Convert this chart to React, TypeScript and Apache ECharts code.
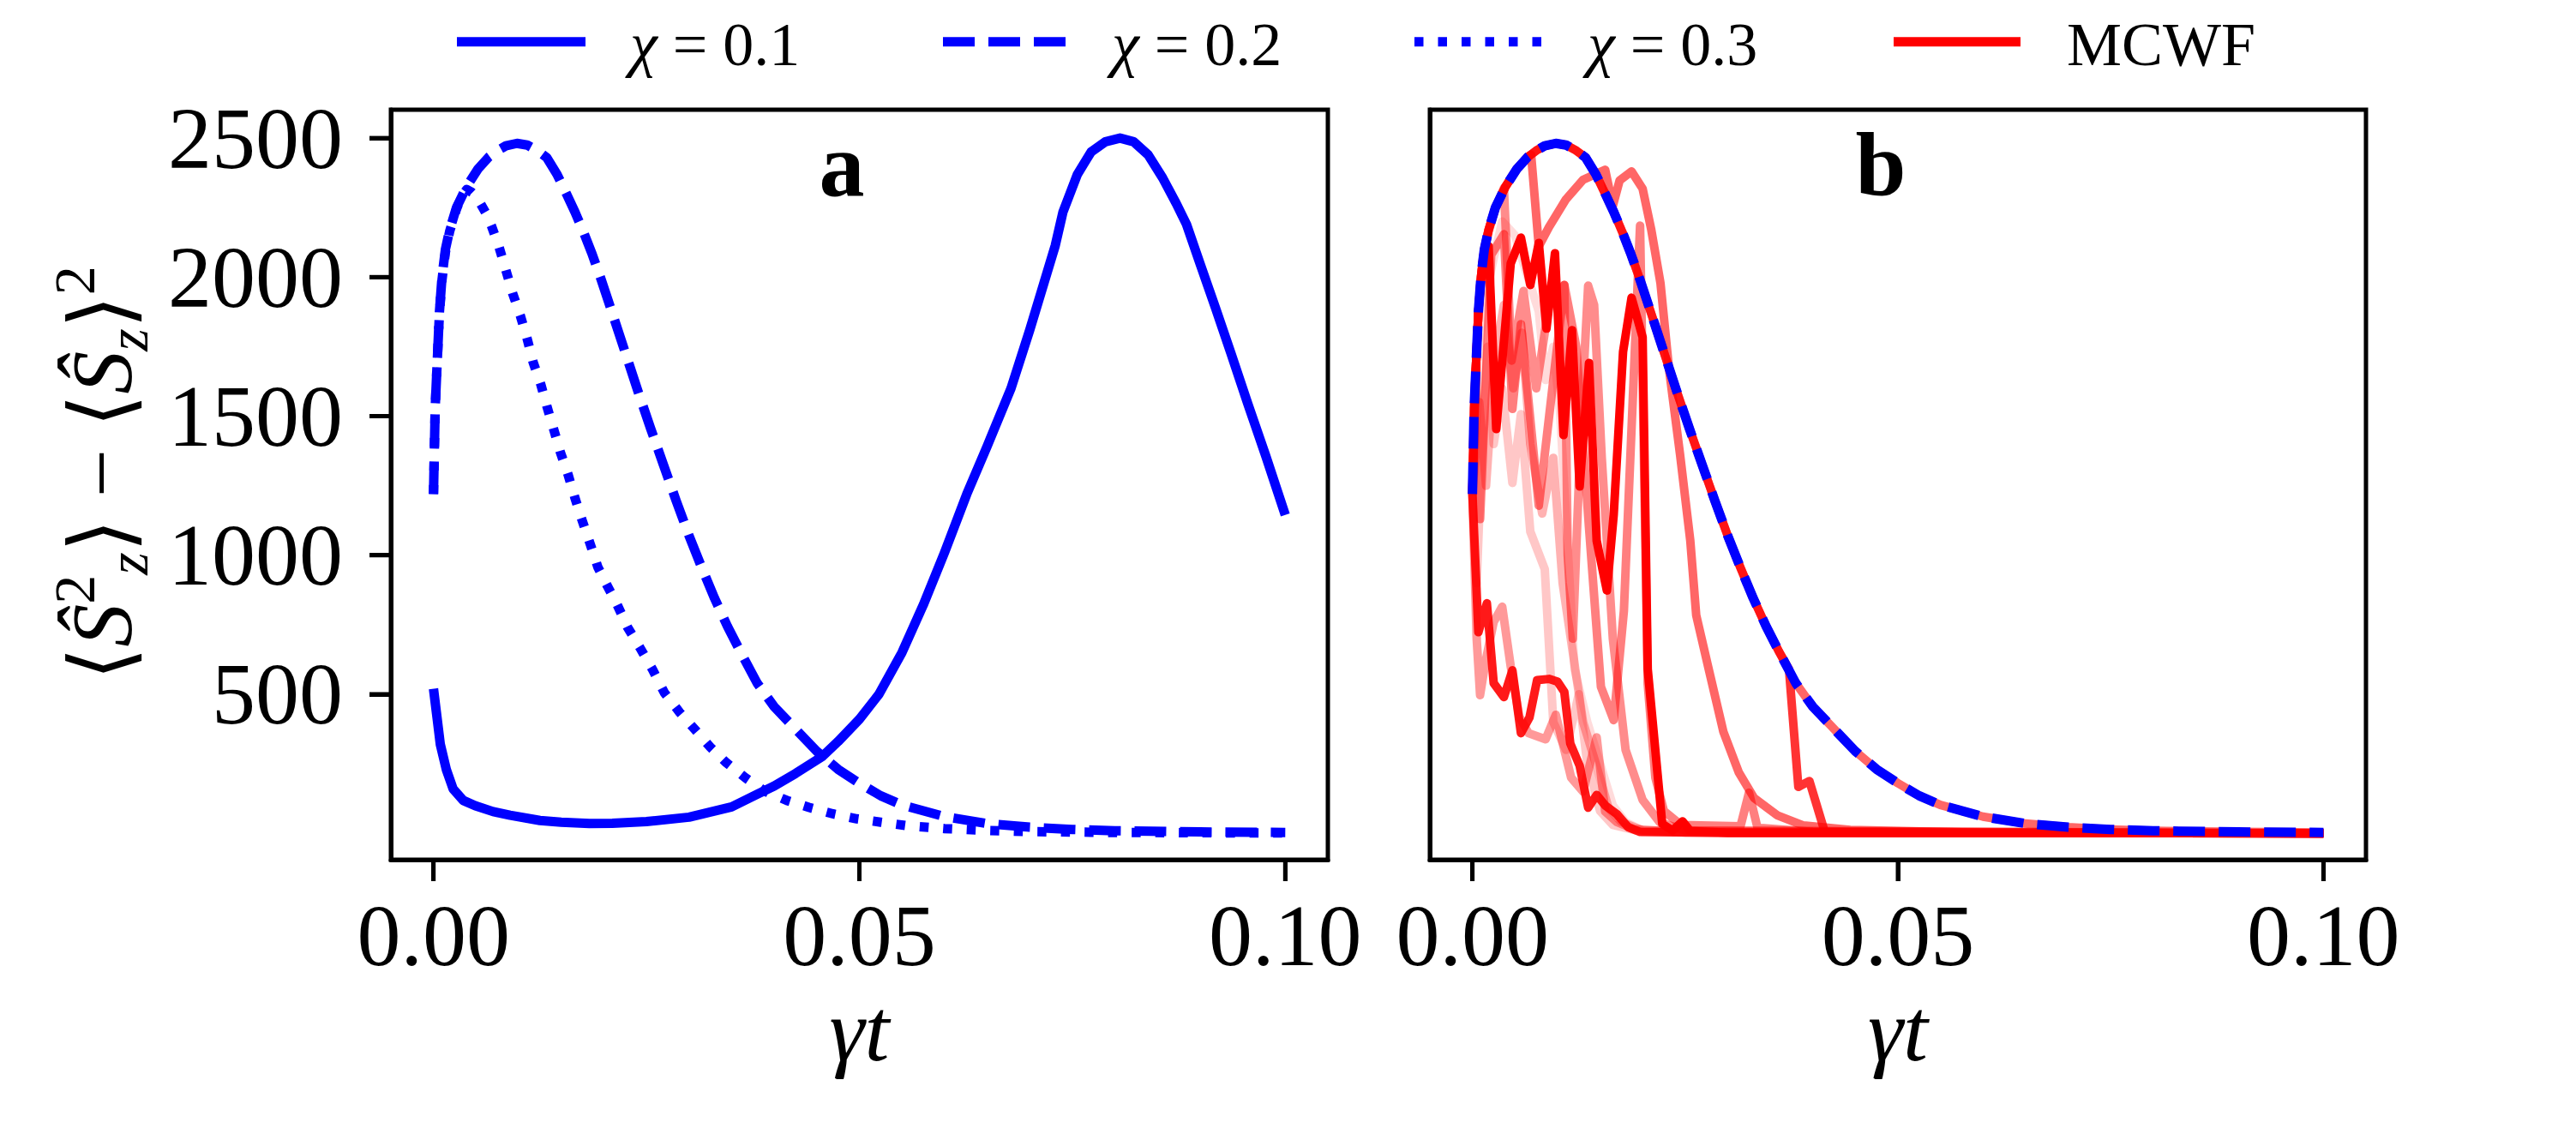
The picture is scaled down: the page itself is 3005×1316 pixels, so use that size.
import React, { useEffect, useRef } from 'react';
import * as echarts from 'echarts';

const FONT = "'Liberation Serif', 'DejaVu Serif', 'DejaVu Sans', serif";

// ---------- axes ----------
const xTicks = [0, 0.05, 0.1];
const yTicks = [500, 1000, 1500, 2000, 2500];
const xRange = [-0.005, 0.105];
const yRange = [-95, 2602];

// ---------- panel a: exact curves ----------
const chi01: number[][] = [
  [0, 520], [0.0004, 420], [0.0008, 320], [0.0015, 230], [0.0023, 160], [0.0035, 118], [0.0049, 99],
  [0.007, 78], [0.009, 65], [0.0125, 46], [0.015, 40], [0.0183, 35], [0.021, 36], [0.025, 42],
  [0.03, 58], [0.035, 95], [0.0379, 139], [0.04, 170], [0.0425, 215], [0.0456, 275], [0.0475, 330],
  [0.05, 410], [0.0523, 500], [0.055, 650], [0.0575, 821], [0.06, 1010], [0.0626, 1219], [0.065, 1392],
  [0.0678, 1600], [0.07, 1810], [0.073, 2114], [0.0739, 2234], [0.0756, 2370], [0.0772, 2450],
  [0.0789, 2487], [0.0806, 2500], [0.0822, 2487], [0.0839, 2440], [0.0856, 2357], [0.0872, 2265],
  [0.0884, 2190], [0.09, 2048], [0.0918, 1890], [0.0936, 1728], [0.0956, 1545], [0.0977, 1358],
  [0.1, 1145],
];

const chi02: number[][] = [
  [0, 1220], [0.0002, 1530], [0.0004, 1670], [0.0007, 1876], [0.001, 2000], [0.0014, 2100],
  [0.0019, 2170], [0.0027, 2250], [0.0039, 2326], [0.0052, 2388], [0.0065, 2432], [0.0075, 2455],
  [0.0085, 2472], [0.0098, 2481], [0.011, 2475], [0.0122, 2455], [0.0133, 2430], [0.0145, 2370],
  [0.0156, 2300], [0.0166, 2235], [0.0176, 2163], [0.0186, 2085], [0.0197, 1990], [0.021, 1870],
  [0.0225, 1730], [0.024, 1590], [0.0255, 1455], [0.027, 1325], [0.0285, 1195], [0.03, 1070],
  [0.0315, 955], [0.033, 845], [0.0345, 745], [0.036, 655], [0.038, 540], [0.04, 455],
  [0.0425, 375], [0.045, 295], [0.0475, 230], [0.05, 180], [0.0525, 135], [0.055, 102],
  [0.06, 60], [0.065, 35], [0.07, 22], [0.075, 14], [0.08, 9], [0.09, 5], [0.1, 3],
];

const chi03: number[][] = [
  [0, 1220], [0.0002, 1530], [0.0004, 1670], [0.0007, 1870], [0.001, 1990], [0.0014, 2090],
  [0.0019, 2165], [0.0027, 2245], [0.0033, 2290], [0.0039, 2315], [0.0045, 2305], [0.005, 2290],
  [0.0055, 2265], [0.0062, 2228], [0.0068, 2185], [0.0077, 2108], [0.0085, 2025], [0.0093, 1941],
  [0.0102, 1861], [0.011, 1778], [0.0117, 1694], [0.0126, 1614], [0.0133, 1537], [0.0141, 1454],
  [0.0149, 1370], [0.0158, 1290], [0.0166, 1207], [0.0174, 1130], [0.0184, 1040], [0.0193, 957],
  [0.0204, 890], [0.0214, 833], [0.0228, 740], [0.0243, 664], [0.0257, 590], [0.0271, 506],
  [0.0289, 435], [0.0307, 373], [0.0325, 310], [0.0343, 256], [0.0366, 200], [0.0389, 151],
  [0.0415, 118], [0.0441, 93], [0.0469, 70], [0.0497, 52], [0.0525, 40], [0.0554, 28],
  [0.06, 17], [0.065, 10], [0.07, 6], [0.08, 3], [0.09, 2], [0.1, 1],
];

// ---------- panel b: MCWF trajectories ----------
const trajA: number[][] = [
  [0, 1220], [0.0004, 1670], [0.0007, 1876], [0.0012, 2050], [0.0019, 2111], [0.0028, 1454],
  [0.0045, 2049], [0.0057, 2142], [0.0068, 1972], [0.0078, 2123], [0.0087, 1815], [0.0097, 2086],
  [0.0107, 1432], [0.0117, 1809], [0.0126, 1247], [0.0137, 1691], [0.0146, 1052], [0.0158, 873],
  [0.0166, 1145], [0.0177, 1731], [0.0187, 1926], [0.02, 1784], [0.0206, 590], [0.0214, 330],
  [0.0223, 34], [0.0235, 10], [0.0247, 43], [0.0256, 8], [0.03, 2], [0.1, 0],
];
const trajB: number[][] = [
  [0, 1220], [0.0007, 723], [0.0017, 827], [0.0025, 540], [0.0037, 490], [0.0047, 586],
  [0.0057, 360], [0.0067, 416], [0.0076, 551], [0.009, 555], [0.01, 545], [0.0108, 508],
  [0.0115, 323], [0.0126, 243], [0.0136, 92], [0.0146, 138], [0.0156, 100], [0.017, 68],
  [0.0183, 22], [0.0197, 5], [0.03, 1], [0.1, 0],
];
const trajCTail: number[][] = [
  [0.0372, 590], [0.0383, 167], [0.0396, 188], [0.0403, 117], [0.0414, 5], [0.05, 1], [0.1, 0],
];
const trajDTail: number[][] = [
  [0.0069, 2440], [0.0078, 2111], [0.009, 2180], [0.011, 2280], [0.013, 2350], [0.0156, 2386],
  [0.0165, 2256], [0.0173, 2348], [0.0187, 2380], [0.02, 2318], [0.021, 2173], [0.0221, 1978],
  [0.0231, 1670], [0.0244, 1362], [0.0256, 1053], [0.0263, 784], [0.0277, 599], [0.0295, 364],
  [0.0313, 219], [0.0331, 127], [0.0358, 65], [0.0389, 28], [0.0444, 12], [0.06, 2], [0.1, 0],
];
const trajE: number[][] = [
  [0, 1220], [0.0004, 1670], [0.0009, 1130], [0.0022, 2080], [0.0037, 2154], [0.0047, 1526],
  [0.0057, 1831], [0.0078, 1178], [0.0108, 1972], [0.0122, 1750], [0.0137, 1100], [0.0151, 527],
  [0.0166, 407], [0.0178, 800], [0.0197, 2185], [0.0206, 537], [0.0215, 200], [0.0225, 80],
  [0.0245, 30], [0.0315, 25], [0.0325, 146], [0.0335, 20], [0.04, 5], [0.1, 0],
];
const trajJ: number[][] = [
  [0, 1220], [0.0004, 1670], [0.0007, 1876], [0.0012, 2061], [0.0019, 2163], [0.0027, 2246],
  [0.0037, 2320], [0.0046, 1700], [0.006, 1950], [0.0075, 1600], [0.009, 1900], [0.0108, 1972],
  [0.0112, 1000], [0.0118, 700], [0.0128, 1500], [0.0136, 1969], [0.0143, 1900], [0.0152, 1350],
  [0.0165, 700], [0.018, 300], [0.02, 120], [0.022, 40], [0.025, 10], [0.1, 0],
];
const trajF: number[][] = [
  [0, 1220], [0.0005, 700], [0.0009, 497], [0.0015, 611], [0.0025, 760], [0.0035, 815],
  [0.0045, 600], [0.0055, 420], [0.0066, 360], [0.0086, 338], [0.0098, 426], [0.0116, 200],
  [0.013, 150], [0.0146, 345], [0.0156, 78], [0.017, 40], [0.019, 15], [0.025, 3], [0.1, 0],
];
const trajG: number[][] = [
  [0, 1220], [0.0008, 1550], [0.0016, 1250], [0.0026, 1700], [0.0037, 1900], [0.0048, 1600],
  [0.0058, 1800], [0.0068, 1400], [0.0082, 1150], [0.0095, 1350], [0.0106, 900], [0.0118, 650],
  [0.013, 400], [0.0145, 250], [0.016, 90], [0.0175, 40], [0.02, 10], [0.1, 0],
];
const trajH: number[][] = [
  [0, 1220], [0.0005, 900], [0.001, 1300], [0.0018, 1750], [0.0025, 1400], [0.0035, 1600],
  [0.0047, 1260], [0.0057, 1507], [0.0068, 1085], [0.0085, 950], [0.0095, 400], [0.011, 300],
  [0.0125, 500], [0.0135, 250], [0.015, 80], [0.0165, 30], [0.02, 5], [0.1, 0],
];
const trajI: number[][] = [
  [0, 1220], [0.001, 1800], [0.002, 2000], [0.0035, 2200], [0.005, 2150], [0.0065, 2000],
  [0.0078, 1877], [0.0086, 1630], [0.0095, 1750], [0.0103, 1515], [0.012, 590], [0.0135, 400],
  [0.015, 250], [0.0165, 100], [0.018, 40], [0.02, 10], [0.1, 0],
];

// trajectories that follow the exact χ=0.2 evolution until their first jump
const trajC = chi02.filter((p) => p[0] <= 0.036).concat(trajCTail);
const trajD = chi02.filter((p) => p[0] <= 0.0065).concat(trajDTail);
const trajExact = chi02;

// drawn lightest first
const mcwf: { data: number[][]; alpha: number }[] = [
  { data: trajI, alpha: 0.14 },
  { data: trajH, alpha: 0.22 },
  { data: trajG, alpha: 0.3 },
  { data: trajF, alpha: 0.4 },
  { data: trajJ, alpha: 0.45 },
  { data: trajE, alpha: 0.5 },
  { data: trajD, alpha: 0.6 },
  { data: trajExact, alpha: 0.6 },
  { data: trajC, alpha: 0.8 },
  { data: trajB, alpha: 0.9 },
  { data: trajA, alpha: 1.0 },
];

const legendLabels = ['{i|χ} = 0.1', '{i|χ} = 0.2', '{i|χ} = 0.3', 'MCWF'];

const BLUE = '#0000ff';
const RED = '#ff0000';
const DASH = [37, 16];
const DOT = [10.5, 17];
const LW = 11;
const TICK_LEN = 25;
const TICK_W = 5;

// layout of the two panels
const PANELS = [
  { left: 456, top: 128, width: 1093, height: 875 },
  { left: 1668, top: 128, width: 1092, height: 875 },
];

function line(name: string, data: number[][], g: number, color: string, width: number, type: any, opacity = 1) {
  return {
    type: 'line',
    name,
    xAxisIndex: g,
    yAxisIndex: g,
    data,
    symbol: 'none',
    showSymbol: false,
    silent: true,
    clip: true,
    lineStyle: { color, width, type, opacity, cap: 'butt', join: 'round' },
  };
}

function xAxis(g: number) {
  return {
    type: 'value',
    gridIndex: g,
    position: 'bottom',
    min: xRange[0],
    max: xRange[1],
    axisLine: { show: true, onZero: false, lineStyle: { color: '#000', width: 5 } },
    splitLine: { show: false },
    axisTick: { show: true, inside: false, length: TICK_LEN, customValues: xTicks, lineStyle: { color: '#000', width: TICK_W } },
    axisLabel: {
      show: true,
      customValues: xTicks,
      formatter: (v: number) => v.toFixed(2),
      fontFamily: FONT,
      fontSize: 102,
      color: '#000',
      margin: 38,
      lineHeight: 100,
    },
    name: 'γt',
    nameLocation: 'middle',
    nameGap: 146,
    nameTextStyle: { fontFamily: FONT, fontSize: 104, fontStyle: 'italic', color: '#000', lineHeight: 104 },
  };
}

function yAxis(g: number, labels: boolean) {
  return {
    type: 'value',
    gridIndex: g,
    position: 'left',
    min: yRange[0],
    max: yRange[1],
    axisLine: { show: true, onZero: false, lineStyle: { color: '#000', width: 5 } },
    splitLine: { show: false },
    axisTick: { show: labels, inside: false, length: TICK_LEN, customValues: yTicks, lineStyle: { color: '#000', width: TICK_W } },
    axisLabel: {
      show: labels,
      customValues: yTicks,
      formatter: (v: number) => String(Math.round(v)),
      fontFamily: FONT,
      fontSize: 102,
      color: '#000',
      margin: 56,
    },
  };
}

export default function App() {
  const ref = useRef<HTMLDivElement>(null);
  useEffect(() => {
    if (!ref.current) return;
    const chart = echarts.init(ref.current, null, { renderer: 'svg' });

    const series: any[] = [
      line('χ = 0.1', chi01, 0, BLUE, LW, 'solid'),
      line('χ = 0.2', chi02, 0, BLUE, LW, DASH),
      line('χ = 0.3', chi03, 0, BLUE, LW, DOT),
    ];
    mcwf.forEach((t, i) => series.push(line('MCWF ' + i, t.data, 1, RED, 10, 'solid', t.alpha)));
    series.push(line('χ = 0.2 (b)', chi02, 1, BLUE, LW, DASH));
    const seriesOfGrid = [0, 3];

    chart.setOption({
      animation: false,
      backgroundColor: '#ffffff',
      grid: [
        { ...PANELS[0], show: true, borderColor: '#000', borderWidth: 5, backgroundColor: 'transparent', containLabel: false },
        { ...PANELS[1], show: true, borderColor: '#000', borderWidth: 5, backgroundColor: 'transparent', containLabel: false },
      ],
      xAxis: [xAxis(0), xAxis(1)],
      yAxis: [yAxis(0, true), yAxis(1, false)],
      series,
    });

    const graphics: any[] = [];
    const toPx = (g: number, pt: number[]) => {
      let p: any = null;
      try { p = chart.convertToPixel({ seriesIndex: seriesOfGrid[g] }, pt); } catch (e) { p = null; }
      if (!p || !isFinite(p[0]) || !isFinite(p[1])) {
        try { p = chart.convertToPixel({ gridIndex: g }, pt); } catch (e) { p = null; }
      }
      return p && isFinite(p[0]) && isFinite(p[1]) ? p : null;
    };
    // tick marks, positioned through the panels' own scales
    [0, 1].forEach((g) => {
      xTicks.forEach((v) => {
        const p = toPx(g, [v, yRange[0]]);
        if (!p) return;
        graphics.push({
          type: 'rect', silent: true, z: 100,
          shape: { x: p[0] - TICK_W / 2, y: p[1], width: TICK_W, height: TICK_LEN },
          style: { fill: '#000' },
        });
      });
    });
    yTicks.forEach((v) => {
      const p = toPx(0, [xRange[0], v]);
      if (!p) return;
      graphics.push({
        type: 'rect', silent: true, z: 100,
        shape: { x: p[0] - TICK_LEN, y: p[1] - TICK_W / 2, width: TICK_LEN, height: TICK_W },
        style: { fill: '#000' },
      });
    });

    const legendX = [[533, 683, 735], [1100, 1248, 1297], [1650, 1798, 1852], [2209, 2357, 2411]];
    const legendStyle = [
      { stroke: BLUE, lineDash: null },
      { stroke: BLUE, lineDash: DASH },
      { stroke: BLUE, lineDash: DOT },
      { stroke: RED, lineDash: null },
    ];
    legendLabels.forEach((lab, i) => {
      const [x1, x2, tx] = legendX[i];
      graphics.push({
        type: 'line',
        silent: true,
        shape: { x1, y1: 48.7, x2, y2: 48.7 },
        style: { stroke: legendStyle[i].stroke, lineWidth: LW, lineDash: legendStyle[i].lineDash, lineCap: 'butt' },
      });
      graphics.push({
        type: 'text',
        silent: true,
        x: tx,
        y: 52,
        style: {
          text: lab,
          fontFamily: FONT,
          fontSize: 72,
          fill: '#000',
          align: 'left',
          verticalAlign: 'middle',
          rich: { i: { fontFamily: FONT, fontSize: 72, fontStyle: 'italic', fill: '#000' } },
        },
      });
    });
    graphics.push({
      type: 'text', silent: true, x: 982, y: 192,
      style: { text: 'a', fontFamily: FONT, fontSize: 106, fontWeight: 'bold', fill: '#000', align: 'center', verticalAlign: 'middle' },
    });
    graphics.push({
      type: 'text', silent: true, x: 2194, y: 192,
      style: { text: 'b', fontFamily: FONT, fontSize: 106, fontWeight: 'bold', fill: '#000', align: 'center', verticalAlign: 'middle' },
    });
    const base = { fontFamily: FONT, fontSize: 100, fill: '#000', lineHeight: 130, verticalAlign: 'middle' };
    graphics.push({
      type: 'text', silent: true, x: 118, y: 552, rotation: Math.PI / 2,
      style: {
        text: '{b|⟨}{i|Ŝ}{sup|2}{sub|z}{b|⟩ − ⟨}{i|Ŝ}{sub|z}{b|⟩}{sup|2}',
        align: 'center',
        verticalAlign: 'middle',
        fontFamily: FONT,
        fontSize: 100,
        fill: '#000',
        rich: {
          b: { ...base },
          i: { ...base, fontStyle: 'italic' },
          sup: { fontFamily: FONT, fontSize: 68, fill: '#000', lineHeight: 68, verticalAlign: 'top' },
          sub: { fontFamily: FONT, fontSize: 68, fill: '#000', lineHeight: 68, verticalAlign: 'bottom', fontStyle: 'italic' },
        },
      },
    });

    chart.setOption({ graphic: graphics });
    return () => chart.dispose();
  }, []);
  return <div ref={ref} style={{ position: 'absolute', left: 0, top: 0, width: 3005, height: 1316, background: '#fff' }} />;
}
